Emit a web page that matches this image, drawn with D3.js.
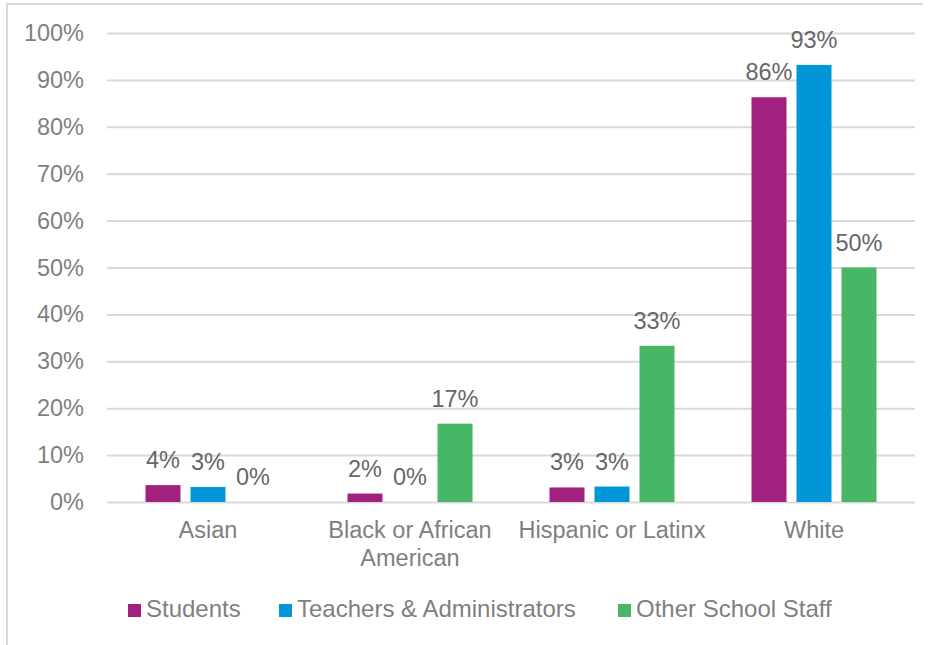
<!DOCTYPE html>
<html>
<head>
<meta charset="utf-8">
<script src="https://cdn.jsdelivr.net/npm/d3@7"></script>
<style>
  html, body { margin: 0; padding: 0; background: #fff; }
  svg { display: block; font-family: "Liberation Sans", Arial, sans-serif; }
</style>
</head>
<body>
<svg id="chart" width="933" height="645"></svg>
<script>
// Race / ethnicity share by group
const categories = ["Asian", "Black or African American", "Hispanic or Latinx", "White"];
const categoryLines = [["Asian"], ["Black or African", "American"], ["Hispanic or Latinx"], ["White"]];
const seriesNames = ["Students", "Teachers & Administrators", "Other School Staff"];
const students = [0.036, 0.018, 0.031, 0.863];
const teachers = [0.032, 0.0, 0.033, 0.932];
const otherStaff = [0.0, 0.167, 0.333, 0.5];
const seriesColors = ["#A0217E", "#0096D8", "#47B765"];
const yTicks = [0, 0.1, 0.2, 0.3, 0.4, 0.5, 0.6, 0.7, 0.8, 0.9, 1.0];

const seriesValues = [students, teachers, otherStaff];
const svg = d3.select("#chart");
const fmt = d3.format(".0%");
const labelSize = 23.5;

const plot = { left: 107, right: 915, top: 33, bottom: 502 };

// chart area frame
svg.append("path")
  .attr("d", "M7,645 L7,4 L923,4")
  .attr("fill", "none")
  .attr("stroke", "#d9d9d9")
  .attr("stroke-width", 2);

const x0 = d3.scaleBand().domain(categories).range([plot.left, plot.right]).padding(0);
const clusterWidth = 125;
const x1 = d3.scaleBand().domain(seriesNames).range([0, clusterWidth]).paddingInner(10 / 45).paddingOuter(0);
const y = d3.scaleLinear().domain([0, 1]).range([plot.bottom, plot.top]);

// gridlines and y axis labels
const yAxis = d3.axisLeft(y).tickValues(yTicks).tickFormat(fmt)
  .tickSize(-(plot.right - plot.left)).tickPadding(23);
const gy = svg.append("g").attr("transform", `translate(${plot.left},0)`).call(yAxis);
gy.select(".domain").remove();
gy.selectAll(".tick line").attr("stroke", "#d9d9d9").attr("stroke-width", 2);
gy.selectAll(".tick text")
  .attr("fill", "#7f7f7f")
  .attr("font-size", labelSize)
  .attr("font-family", "Liberation Sans, Arial, sans-serif");

// bars
const groups = svg.append("g").selectAll("g")
  .data(categories)
  .join("g")
  .attr("transform", c => `translate(${x0(c) + (x0.bandwidth() - clusterWidth) / 2},0)`);

const rows = (c, i) => seriesNames.map((s, j) => ({ series: s, idx: j, value: seriesValues[j][i] }));

groups.each(function (c, i) {
  const g = d3.select(this);
  const data = rows(c, i);
  g.selectAll("rect")
    .data(data)
    .join("rect")
    .attr("x", d => x1(d.series))
    .attr("width", x1.bandwidth())
    .attr("y", d => y(d.value))
    .attr("height", d => y(0) - y(d.value))
    .attr("fill", d => seriesColors[d.idx]);
  g.selectAll("text")
    .data(data)
    .join("text")
    .attr("x", d => x1(d.series) + x1.bandwidth() / 2)
    .attr("y", d => y(d.value) - 17)
    .attr("text-anchor", "middle")
    .attr("font-size", labelSize)
    .attr("fill", "#666666")
    .text(d => fmt(d.value));
});

// category labels
const xLabels = svg.append("g").selectAll("text")
  .data(categories)
  .join("text")
  .attr("x", c => x0(c) + x0.bandwidth() / 2)
  .attr("y", 538)
  .attr("text-anchor", "middle")
  .attr("font-size", labelSize)
  .attr("fill", "#7f7f7f");
xLabels.each(function (c, i) {
  d3.select(this).selectAll("tspan")
    .data(categoryLines[i])
    .join("tspan")
    .attr("x", x0(c) + x0.bandwidth() / 2)
    .attr("dy", (d, k) => k === 0 ? 0 : 28)
    .text(d => d);
});

// legend
const legendX = [128, 279, 618];
const legend = svg.append("g").selectAll("g")
  .data(seriesNames)
  .join("g")
  .attr("transform", (d, i) => `translate(${legendX[i]},604)`);
legend.append("rect")
  .attr("width", 13).attr("height", 13)
  .attr("fill", (d, i) => seriesColors[i]);
legend.append("text")
  .attr("x", 18).attr("y", 13)
  .attr("font-size", 24)
  .attr("fill", "#7f7f7f")
  .text(d => d);
</script>
</body>
</html>
